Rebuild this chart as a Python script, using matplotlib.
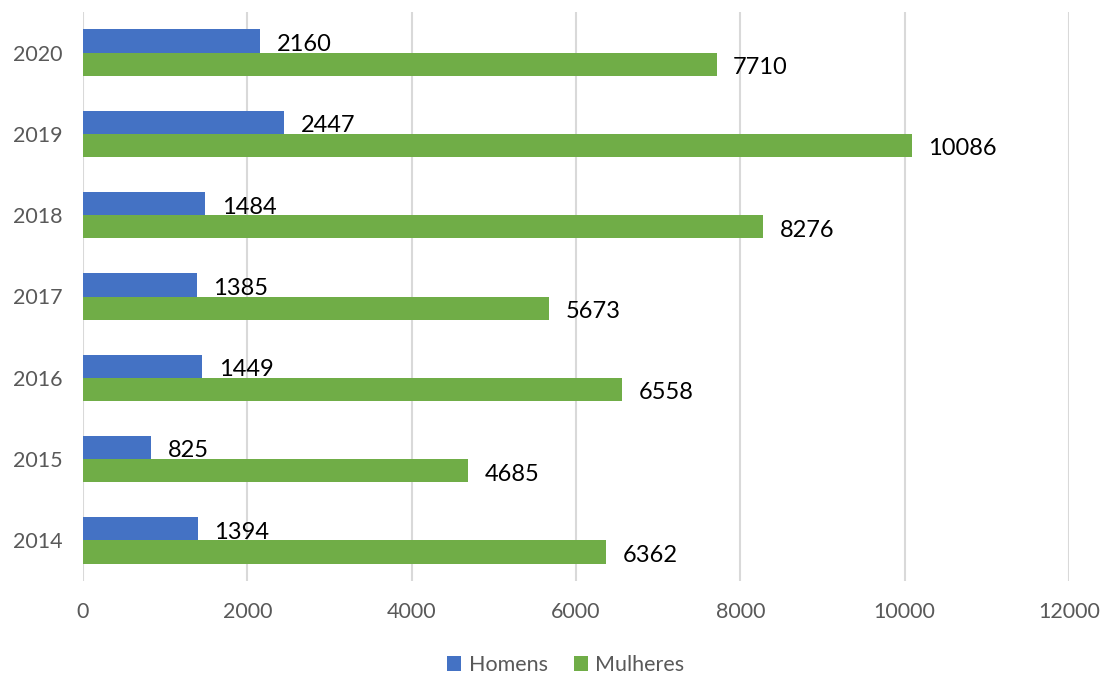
import matplotlib
matplotlib.use("Agg")
import matplotlib.pyplot as plt
import numpy as np

years = ["2014", "2015", "2016", "2017", "2018", "2019", "2020"]
homens = [1394, 825, 1449, 1385, 1484, 2447, 2160]
mulheres = [6362, 4685, 6558, 5673, 8276, 10086, 7710]
xticks = [0, 2000, 4000, 6000, 8000, 10000, 12000]

plt.rcParams['font.family'] = ['Lato', 'DejaVu Sans']

fig = plt.figure(figsize=(11.02, 6.75), dpi=100)
ax = fig.add_axes([83/1102, 1-581/675, (1069-83)/1102, (581-12)/675])

y = np.arange(len(years))
h = 0.285
blue = "#4472C4"
green = "#70AD47"
bh = ax.barh(y + h/2, homens, height=h, color=blue, label="Homens", zorder=3)
bm = ax.barh(y - h/2, mulheres, height=h, color=green, label="Mulheres", zorder=3)

for yi, v in zip(y, homens):
    ax.annotate(str(v), (v, yi + h/2), xytext=(12, -2.5), textcoords="offset points",
                va="center", ha="left", fontsize=17, color="black")
for yi, v in zip(y, mulheres):
    ax.annotate(str(v), (v, yi - h/2), xytext=(12, -2.5), textcoords="offset points",
                va="center", ha="left", fontsize=17, color="black")

ax.set_xlim(0, 12000)
ax.set_ylim(-0.5, 6.5)
ax.set_xticks(xticks)
ax.set_xticklabels([str(t) for t in xticks])
ax.set_yticks(y)
ax.set_yticklabels(years)
ax.tick_params(axis='both', length=0, labelsize=15.5, colors="#595959")
ax.tick_params(axis='x', pad=15)
ax.tick_params(axis='y', pad=15)
ax.grid(axis='x', color="#D9D9D9", linewidth=1.5, zorder=0)
for s in ax.spines.values():
    s.set_visible(False)

leg = fig.legend(handles=[bh, bm], labels=["Homens", "Mulheres"], loc="center",
                 bbox_to_anchor=(566/1102, 1-665/675), ncol=2, frameon=False,
                 fontsize=15.5, handlelength=0.65, handleheight=0.65,
                 handletextpad=0.35, columnspacing=1.2)
for t in leg.get_texts():
    t.set_color("#595959")

fig.savefig("out.png", dpi=100)
